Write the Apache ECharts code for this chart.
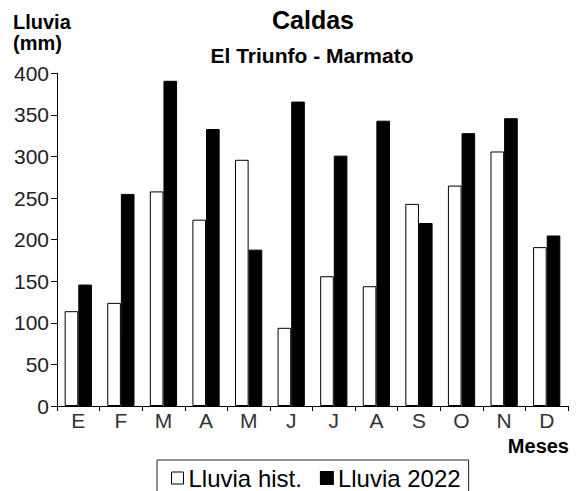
<!DOCTYPE html>
<html>
<head>
<meta charset="utf-8">
<script src="https://cdn.jsdelivr.net/npm/echarts@6/dist/echarts.min.js"></script>
<style>html,body{margin:0;padding:0;background:#fff;}#c{width:576px;height:491px;}</style>
</head>
<body>
<div id="c"></div>
<script>
const months = ['E','F','M','A','M','J','J','A','S','O','N','D'];
const histValues = [114, 124, 258, 224, 296, 94, 156, 144, 243, 265, 306, 191];
const values2022 = [146, 255, 391, 333, 188, 366, 301, 343, 220, 328, 346, 205];
const yTicks = {min: 0, max: 400, interval: 50};
const seriesNames = ['Lluvia hist.', 'Lluvia 2022'];
const titleText = 'Caldas';
const subtitleText = 'El Triunfo - Marmato';
const yName = ['Lluvia', '(mm)'];
const xName = 'Meses';

const FONT = '"Liberation Sans", Arial, sans-serif';
const chart = echarts.init(document.getElementById('c'), null, {renderer: 'svg'});
chart.setOption({
  animation: false,
  backgroundColor: '#fff',
  textStyle: {fontFamily: FONT},
  grid: {left: 57, right: 8, top: 73.3, bottom: 85, containLabel: false},
  graphic: [
    {type: 'text', style: {text: titleText, x: 313, y: 19.5, textAlign: 'center', textVerticalAlign: 'middle', font: 'bold 25px ' + FONT, fill: '#000'}},
    {type: 'text', style: {text: subtitleText, x: 312, y: 55, textAlign: 'center', textVerticalAlign: 'middle', font: 'bold 21px ' + FONT, fill: '#000'}},
    {type: 'text', style: {text: yName[0], x: 13, y: 22, textAlign: 'left', textVerticalAlign: 'middle', font: 'bold 20px ' + FONT, fill: '#000'}},
    {type: 'text', style: {text: yName[1], x: 13, y: 43, textAlign: 'left', textVerticalAlign: 'middle', font: 'bold 20px ' + FONT, fill: '#000'}},
    {type: 'text', style: {text: xName, x: 569, y: 446, textAlign: 'right', textVerticalAlign: 'middle', font: 'bold 20px ' + FONT, fill: '#000'}}
  ],
  legend: {
    left: 157, top: 460,
    padding: [6, 8, 12, 14],
    borderColor: '#222', borderWidth: 1,
    itemWidth: 12, itemHeight: 12, itemGap: 18,
    icon: 'rect',
    textStyle: {fontSize: 24, color: '#000', fontFamily: FONT},
    data: [
      {name: seriesNames[0], itemStyle: {color: '#fff', borderColor: '#000', borderWidth: 1}},
      {name: seriesNames[1], itemStyle: {color: '#000'}}
    ]
  },
  xAxis: {
    type: 'category',
    data: months,
    boundaryGap: true,
    axisLine: {lineStyle: {color: '#000', width: 1}},
    axisTick: {show: true, length: 5, alignWithLabel: false, lineStyle: {color: '#000'}},
    axisLabel: {fontSize: 21, color: '#333', margin: 4, fontFamily: FONT, interval: 0},
    splitLine: {show: false}
  },
  yAxis: {
    type: 'value',
    min: yTicks.min, max: yTicks.max, interval: yTicks.interval,
    axisLine: {show: true, lineStyle: {color: '#000', width: 1}},
    axisTick: {show: true, length: 6, lineStyle: {color: '#000'}},
    axisLabel: {fontSize: 21, color: '#222', margin: 8, fontFamily: FONT},
    splitLine: {show: false}
  },
  series: [
    {name: seriesNames[0], type: 'bar', data: histValues, barGap: '0%', barCategoryGap: '36%',
     itemStyle: {color: '#fff', borderColor: '#000', borderWidth: 1}},
    {name: seriesNames[1], type: 'bar', data: values2022,
     itemStyle: {color: '#000', borderColor: '#000', borderWidth: 1}}
  ]
});
</script>
</body>
</html>
